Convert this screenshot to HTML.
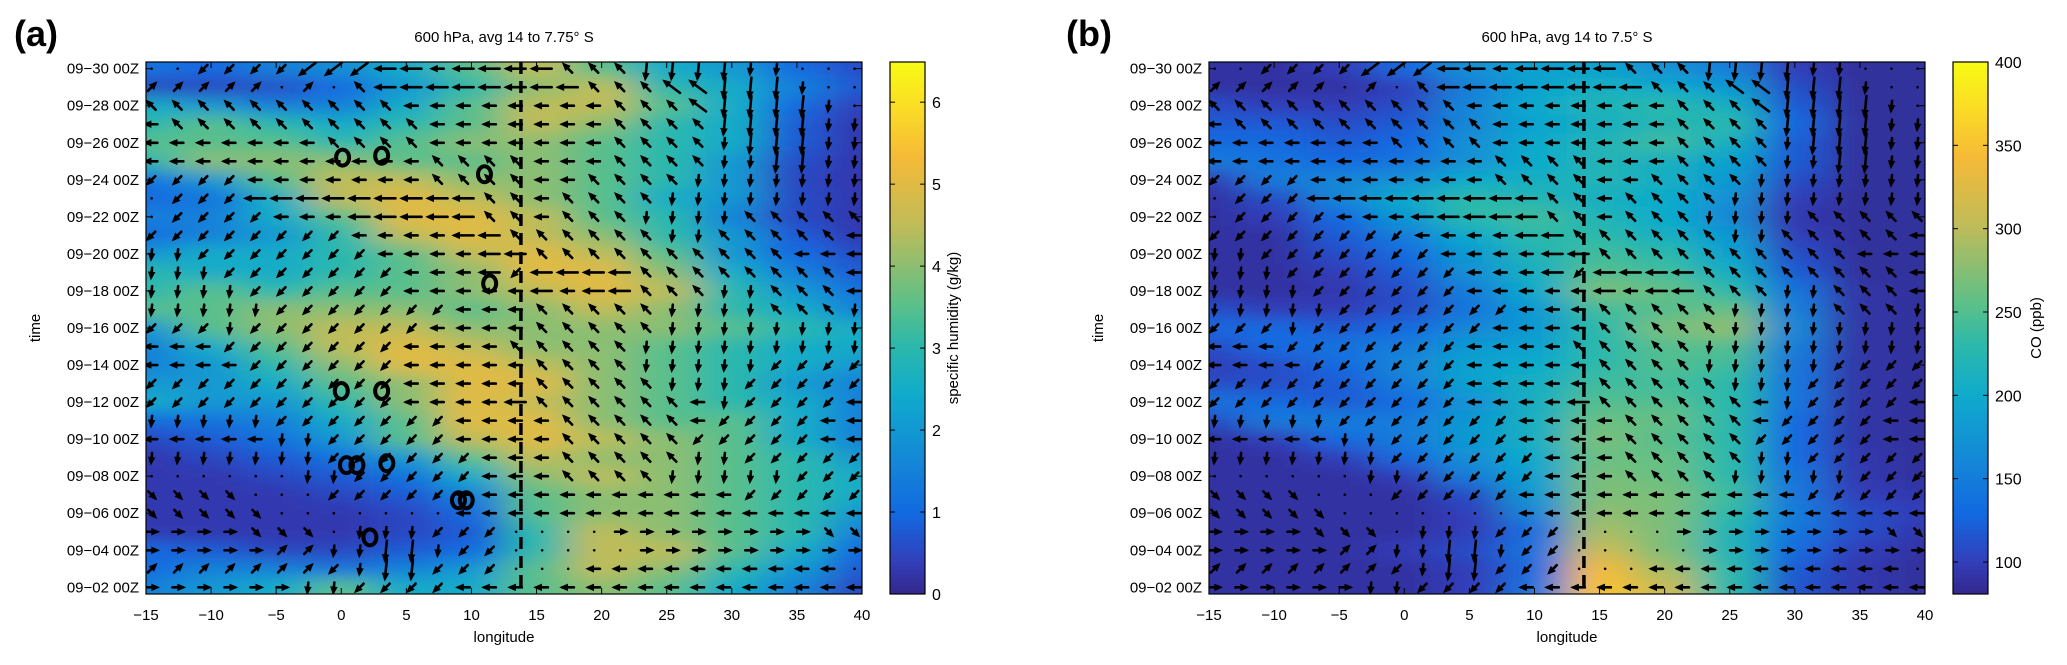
<!DOCTYPE html>
<html><head><meta charset="utf-8"><style>
body{margin:0;background:#fff;width:2067px;height:660px;overflow:hidden}
svg text{font-family:"Liberation Sans",sans-serif;fill:#000}
</style></head><body>
<svg id="fig" width="2067" height="660" xmlns="http://www.w3.org/2000/svg">
<defs>
<filter id="blr" x="-5%" y="-5%" width="110%" height="110%"><feGaussianBlur stdDeviation="20 8" edgeMode="duplicate"/></filter>
<clipPath id="clipA"><rect x="146" y="62" width="716" height="532"/></clipPath>
<clipPath id="clipB"><rect x="1209" y="62" width="716" height="532"/></clipPath>
</defs>
</svg>
<script>
const lons=[-15,-10,-5,0,5,10,15,20,25,30,35,40];
const times=[30,29,28,27,26,25,24,23,22,21,20,19,18,17,16,15,14,13,12,11,10,9,8,7,6,5,4,3,2];
const qValues=[
[1.2,1,1.5,1.8,2.5,3.5,4.5,3.5,2.5,2,1,0.6],
[0.5,0.5,0.6,1,2,3,4,4.5,3,2.5,1.5,0.8],
[2.5,2,1.5,1.5,2.5,3.5,4.5,4.5,3.5,2.5,1,0.4],
[3,3.5,3,2.5,3,3.5,4.5,4,3,2.5,0.8,0.3],
[3.5,3.5,3.5,3,3.5,4,4,3.5,3,2.5,0.8,0.3],
[3,4,4,4,3.5,3.5,4,3.5,3,2,0.6,0.3],
[1.2,2,3.5,4.5,4.5,4,4,3.5,3,2,0.5,0.3],
[1,1.2,2.5,4.5,5,4.5,4,3.5,2.5,2,0.6,0.3],
[1.5,1.5,2.5,3.5,5,5,4.5,3.5,3,1.5,0.5,0.3],
[1,1.5,2,3,4.5,5,4.5,4,3,2,0.8,0.3],
[2,2.5,2.5,3,3.5,4.5,5,4.5,3.5,2,1,0.6],
[3,2.5,2.5,3,3.5,4,5,5,4,2.5,1.5,0.8],
[3,3.5,3,3.5,3.5,4,4.5,5,4.5,3,2,1.2],
[3.5,3.5,4,4,4,3.5,4,4.5,4,3,2.5,1.5],
[2,3.5,4,4.5,4.5,4,4,4,4,3.5,3,2.5],
[1.5,2.5,3.5,4.5,5,4.5,4,4,3.5,3,2.5,2.5],
[1.5,2,3,4,5,5,4.5,4,3.5,3,2.5,2],
[2,2,2.5,3.5,4,5,5,4,3.5,3,2,1.5],
[2.5,2,2,3,4,5,4.5,4,3.5,3,2.5,1.5],
[1,1.2,1.5,2.5,3.5,5,5,4,3.5,3.5,2.5,1.5],
[0.5,0.8,1.2,2,3.5,4.5,5,4.5,4,3.5,2.5,1.5],
[0.3,0.5,0.8,1.2,2,3.5,4.5,4,4,3.5,3,2],
[0.3,0.3,0.5,0.8,1.2,2.5,4,4.5,4,3.5,3,2.5],
[0.3,0.3,0.3,0.5,0.8,1.5,3.5,4,4,3.5,3,2.5],
[0.3,0.3,0.3,0.3,0.5,1,3.5,4,4,3.5,3,2],
[0.3,0.3,0.3,0.3,0.5,0.8,3,4.5,4,3.5,3,1.5],
[1,0.8,0.5,0.5,0.8,1,3,4.5,4.5,3.5,2.5,1],
[1,1.5,1.5,1.2,1.5,2,3.5,4.5,4,3,2,0.8],
[1.5,2,2.5,3.5,2.5,2.5,3.5,4,3.5,2.5,1.5,0.5]];
const coValues=[
[90,90,100,130,170,190,190,170,150,100,88,88],
[90,90,90,100,150,190,210,200,180,110,88,88],
[110,100,100,110,160,200,220,230,210,120,88,88],
[120,120,110,120,160,190,210,220,230,130,88,88],
[130,130,120,130,170,200,220,240,210,120,88,88],
[150,140,130,140,170,200,220,210,190,120,88,88],
[100,150,160,170,200,210,220,210,180,110,88,88],
[90,110,160,200,230,220,210,200,170,100,88,88],
[90,100,130,180,230,240,220,200,160,95,88,88],
[90,90,120,150,200,230,230,210,180,100,88,88],
[90,90,110,130,180,220,240,230,190,110,88,88],
[90,90,100,120,170,210,250,240,210,120,88,88],
[90,90,95,110,150,200,270,260,230,140,92,88],
[110,100,100,110,140,180,240,250,260,150,92,88],
[130,130,120,130,160,180,230,270,280,160,92,88],
[110,130,140,150,180,190,230,250,250,150,92,88],
[100,110,130,160,190,200,230,250,240,140,92,88],
[110,110,120,150,190,210,240,240,230,140,92,88],
[140,130,120,130,170,210,250,250,230,140,92,88],
[110,150,150,150,180,210,260,260,230,130,92,88],
[90,100,130,150,180,210,270,250,230,130,92,88],
[90,90,100,130,170,200,260,260,230,130,95,88],
[90,90,90,100,150,190,270,260,230,140,95,88],
[90,90,90,90,110,180,270,270,240,140,100,95],
[90,90,90,90,100,160,280,270,230,150,110,100],
[90,90,90,90,100,130,290,270,220,140,110,95],
[90,90,90,100,110,140,310,270,220,130,100,90],
[90,90,90,90,100,130,340,290,230,120,95,88],
[90,90,90,90,100,140,350,310,230,115,95,88]];
const windRows=[
"..zzzzZZZLLlLLLLqqqSSSSvv...",
"rrrrr.r.qLLLLLLLLqqqQQSSSv..",
"qqqqqqqqqqllllllllqqqQSSSSv.",
"lqqqqqqqqqqlllllllqqqqSSSSvv",
"lllllllqqqqlllllllqqqqvSSSvv",
"lllllllllllqqqqlllqqqqvvSSvv",
"zzzzlllllllqqqqllqqqqvvvvvvv",
".zzzLLLLLLLLLqqlqqqqvvvvvvvv",
".zzzzlllLLLLLqqlqqqvvvvqqqqq",
"zzzzzzzzllllLLqqqqqqvvqqqqql",
"vvzzzzzzzllllLLqqqqqqqqqqlll",
"vvvzzzzzzzlllLzLLLLqqqqqqqql",
"vvvvzzzzzzlllllLlLLqqqvvqqql",
"vvvvvzzzzzzzlllqqqqqvvvvqqqv",
"zzzvzzzzzzzllllqqqqqvvvvvvvv",
"lllzzzzzzzllllqqqqqvvvvvvvvv",
"llllzzzzzzlllllqqqqvvvvvzzzz",
"zzzzzzzzzzlllllqqqqqvvvzzzzz",
"zzzzzzzzzzllllLqqqqqqlvzzzzl",
"vvvvvzzzzzzzllllqqqqqlzzzzll",
"lllllvvzzzzzllllqqqqqzzzzzll",
"vvvvvvvzzzzzzlllqqqqqvvzzzzz",
"......vvzzzzzlllqqqqvvvvvzzz",
"dddd...zzzzzlllllllllllzzzzz",
"ddddd.......llllllllllllllll",
"eeeeddd.vvvzzz....eeeeeeeedd",
"eeeeerrvvSSvzz.....eeeeeeeee",
"rrrrrrrzvSSzzz...llllllllll.",
"eeeeeevvzzzzllllllllllllllll"];
const windLons=[-14.8,-12.8,-10.8,-8.8,-6.8,-4.8,-2.8,-0.8,1.2,3.2,5.2,7.2,9.2,11.2,13.2,15.2,17.2,19.2,21.2,23.2,25.2,27.2,29.2,31.2,33.2,35.2,37.2,39.2];
const circleLons=[0.1,3.1,11.0,11.4,0.0,3.1,0.4,1.2,3.5,9.0,9.6,2.2];
const circleTimes=[25.2,25.3,24.3,18.4,12.6,12.6,8.6,8.6,8.7,6.7,6.7,4.7];
const xTicks=[-15,-10,-5,0,5,10,15,20,25,30,35,40];
const yTickDays=[2,4,6,8,10,12,14,16,18,20,22,24,26,28,30];
const qTicks=[0,1,2,3,4,5,6];
const coTicks=[100,150,200,250,300,350,400];

const NS='http://www.w3.org/2000/svg';
const svg=document.getElementById('fig');
function mk(tag,attrs,parent){const e=document.createElementNS(NS,tag);for(const k in attrs)e.setAttribute(k,attrs[k]);(parent||svg).appendChild(e);return e;}
const parula=[[52,40,140],[50,62,185],[18,105,225],[20,135,215],[15,170,205],[45,185,170],[95,192,135],[190,188,90],[245,186,55],[250,215,40],[249,251,20]];
const pstops=[0,0.06,0.15,0.25,0.37,0.47,0.55,0.69,0.82,0.9,1];
function cmap(f){f=Math.max(0,Math.min(1,f));for(let i=1;i<pstops.length;i++){if(f<=pstops[i]){const t=(f-pstops[i-1])/(pstops[i]-pstops[i-1]);const a=parula[i-1],b=parula[i];return `rgb(${Math.round(a[0]+(b[0]-a[0])*t)},${Math.round(a[1]+(b[1]-a[1])*t)},${Math.round(a[2]+(b[2]-a[2])*t)})`;}}return 'rgb(249,251,20)';}
const dirs={L:[-1,0,1],l:[-1,0,0.6],Q:[-0.8,0.6,1],q:[-0.7,0.7,0.6],Z:[-0.8,-0.6,1],z:[-0.7,-0.7,0.55],S:[-0.1,-1,1],v:[-0.1,-1,0.5],N:[0,1,1],u:[0,1,0.5],E:[1,0,1],e:[1,0,0.55],R:[0.7,0.7,1],r:[0.7,0.7,0.55],d:[0.7,-0.7,0.5],'.':[0,0,0.1]};

function panel(o){
  const X=v=>o.x0+(v+15)/55*716;
  const Y=d=>62+(30.36-d)/28.72*532;
  const g=mk('g',{'clip-path':`url(#${o.clip})`});
  
  
  mk('rect',{x:o.x0,y:62,width:716,height:532,fill:cmap(0.05)},g);
  const hm=mk('g',{filter:'url(#blr)'},g);
  
  
  times.forEach((t,ri)=>{lons.forEach((ln,ci)=>{
    let x1=X(ln-2.5),x2=X(ln+2.5),y1=Y(t+0.5),y2=Y(t-0.5);
    if(ci===0)x1-=60; if(ci===lons.length-1)x2+=60; if(ri===0)y1-=60; if(ri===times.length-1)y2+=60;
    const r=mk('rect',{x:x1,y:y1,width:x2-x1+0.5,height:y2-y1+0.5,fill:cmap(o.norm(o.vals[ri][ci]))},hm);
    
    
  });});
  const ag=mk('g',{stroke:'#000','stroke-width':2.6,'stroke-linecap':'round',fill:'#000'},g);
  
  
  windRows.forEach((row,ri)=>{const t=times[ri];for(let ci=0;ci<row.length;ci++){
    const d=dirs[row[ci]]||dirs['.'];const cx=X(windLons[ci])+3,cy=Y(t);const L=19*d[2];
    const ex=cx+d[0]*L/2,ey=cy-d[1]*L/2,sx=cx-d[0]*L/2,sy=cy+d[1]*L/2;
    const ln=mk('line',{x1:sx,y1:sy,x2:ex,y2:ey},ag);
    
    
    if(L>8){const ux=d[0],uy=-d[1],n=Math.hypot(ux,uy)||1,a=ux/n,b=uy/n,h=5;
      const p=mk('polygon',{points:`${ex+a*2},${ey+b*2} ${ex-a*h-b*3},${ey-b*h+a*3} ${ex-a*h+b*3},${ey-b*h-a*3}`,'stroke-width':1},ag);
      
      }
  }});
  if(o.circles){circleLons.forEach((c,i)=>{const e=mk('ellipse',{cx:X(c),cy:Y(circleTimes[i]),rx:6.5,ry:8,fill:'none',stroke:'#000','stroke-width':4},g);
    
    });}
  const dl=mk('line',{x1:X(13.8),y1:62,x2:X(13.8),y2:594,stroke:'#000','stroke-width':3.5,'stroke-dasharray':'12 7'},g);
  
  
  const fr=mk('rect',{x:o.x0,y:62,width:716,height:532,fill:'none',stroke:'#000','stroke-width':1.2});
  
  
  xTicks.forEach(v=>{mk('line',{x1:X(v),y1:594,x2:X(v),y2:588,stroke:'#000'});mk('line',{x1:X(v),y1:62,x2:X(v),y2:68,stroke:'#000'});
    const t=mk('text',{x:X(v),y:620,'font-size':15,'text-anchor':'middle'});t.textContent=v<0?'\u2212'+(-v):v;
    
    });
  yTickDays.forEach(d=>{mk('line',{x1:o.x0,y1:Y(d),x2:o.x0+6,y2:Y(d),stroke:'#000'});mk('line',{x1:o.x0+716,y1:Y(d),x2:o.x0+710,y2:Y(d),stroke:'#000'});
    const t=mk('text',{x:o.x0-7,y:Y(d)+5,'font-size':15,'text-anchor':'end'});t.textContent='09\u2212'+String(d).padStart(2,'0')+' 00Z';
    
    });
  let t=mk('text',{x:o.x0+358,y:642,'font-size':15,'text-anchor':'middle'});t.textContent='longitude';
  
  t=mk('text',{x:o.x0-106,y:328,'font-size':15,'text-anchor':'middle',transform:`rotate(-90 ${o.x0-106} 328)`});t.textContent='time';
  
  t=mk('text',{x:o.x0+358,y:42,'font-size':15,'text-anchor':'middle'});t.textContent=o.title;
  
  t=mk('text',{x:o.lx,y:46,'font-size':36,'font-weight':'bold'});t.textContent=o.letter;
  
  const cb=mk('g',{});
  
  
  for(let i=0;i<133;i++){mk('rect',{x:o.cbx,y:62+i*4,width:35,height:4.5,fill:cmap(1-(i+0.5)/133)},cb);}
  mk('rect',{x:o.cbx,y:62,width:35,height:532,fill:'none',stroke:'#000','stroke-width':1.2},cb);
  o.ticks.forEach(v=>{const y=594-o.norm(v)*532;mk('line',{x1:o.cbx,y1:y,x2:o.cbx+5,y2:y,stroke:'#000'},cb);mk('line',{x1:o.cbx+35,y1:y,x2:o.cbx+30,y2:y,stroke:'#000'},cb);
    const tt=mk('text',{x:o.cbx+42,y:y+6,'font-size':16},cb);tt.textContent=v;
    });
  t=mk('text',{x:o.cbx+o.cbo,y:328,'font-size':15,'text-anchor':'middle',transform:`rotate(-90 ${o.cbx+o.cbo} 328)`});t.textContent=o.cbl;
  
}
panel({name:'humidity',x0:146,clip:'clipA',vals:qValues,norm:v=>v/6.49,circles:true,title:'600 hPa, avg 14  to 7.75\u00b0 S',letter:'(a)',lx:14,cbx:890,cbo:68,ticks:qTicks,cbl:'specific humidity (g/kg)'});
panel({name:'co',x0:1209,clip:'clipB',vals:coValues,norm:v=>(v-80.8)/319.2,circles:false,title:'600 hPa, avg 14  to 7.5\u00b0 S',letter:'(b)',lx:1066,cbx:1953,cbo:88,ticks:coTicks,cbl:'CO (ppb)'});
</script>
</body></html>
